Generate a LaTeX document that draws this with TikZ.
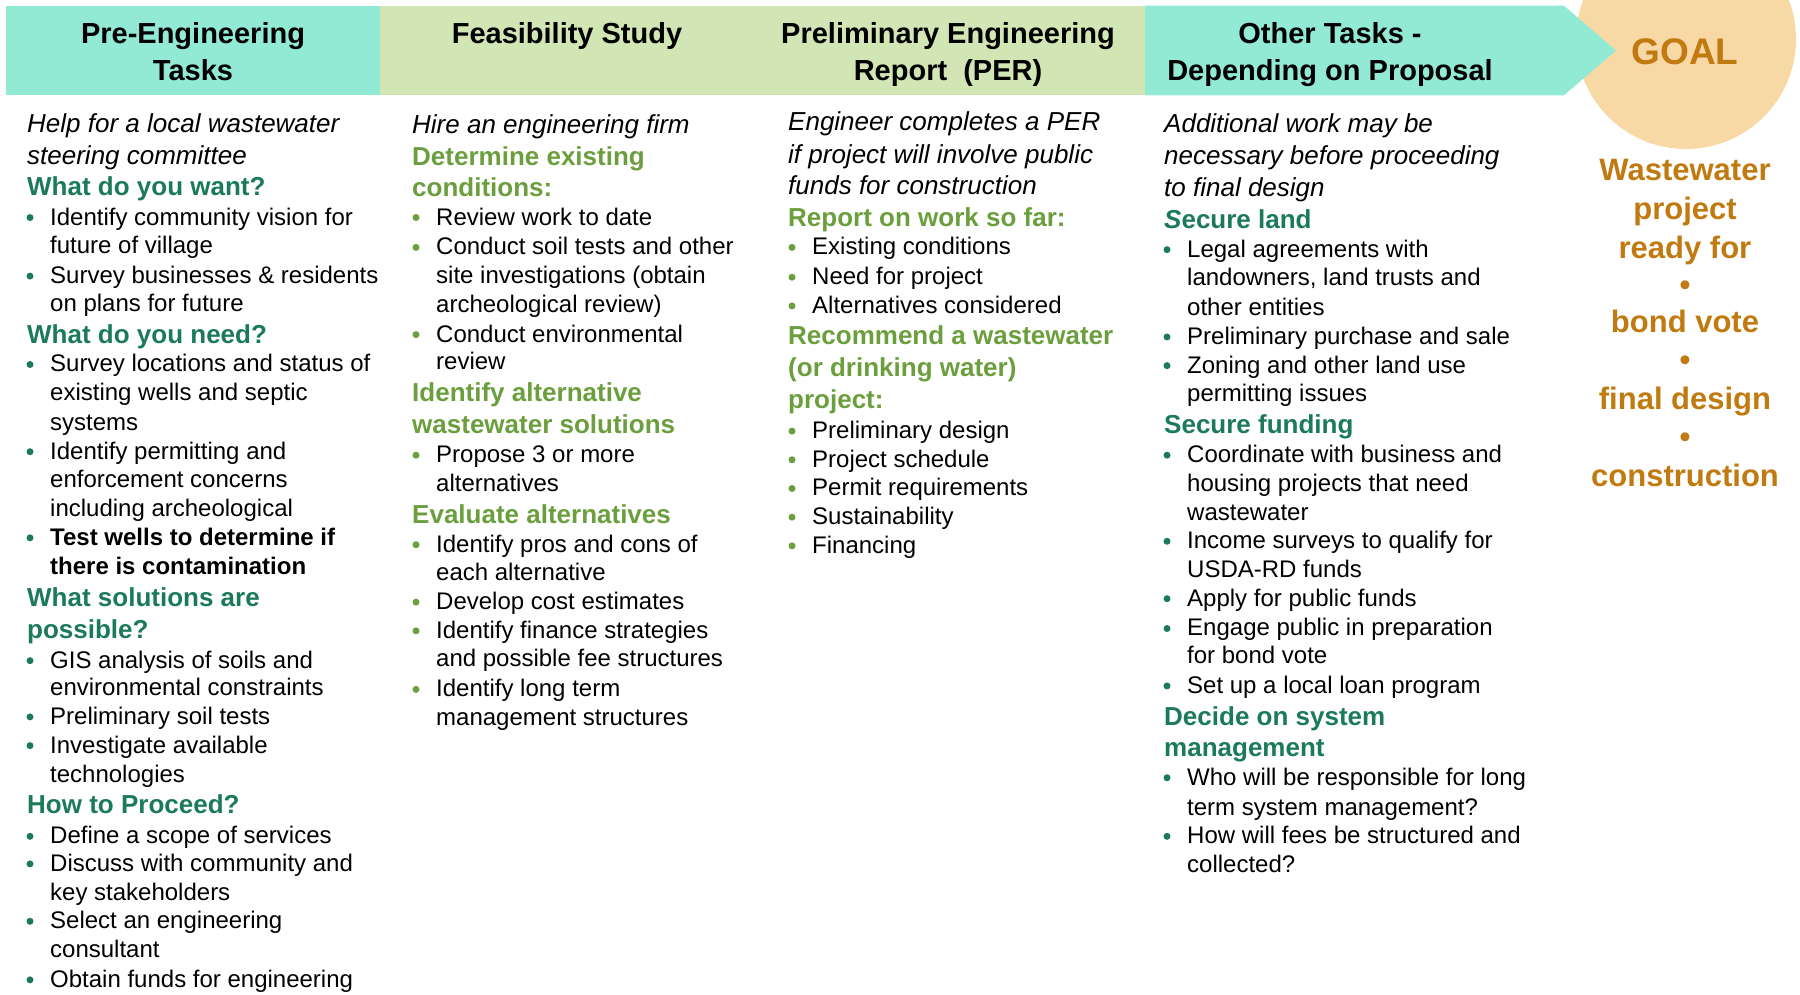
\documentclass[tikz,border=0pt]{standalone}
\usepackage{fontspec}
\setmainfont{Liberation Sans}
\definecolor{hteal}{HTML}{92EAD4}
\definecolor{hgreen}{HTML}{D2E5B5}
\definecolor{peach}{HTML}{F8D8A5}
\definecolor{goalc}{HTML}{C07A10}
\definecolor{tg}{HTML}{1B7A5A}
\definecolor{og}{HTML}{6B9E3C}
\newcommand\mkI[4]{\node[itl] (#1) at (#2,#3+8) {#4};}
\newcommand\mkH[5]{\node[hd, text=#2] (#1) at (#3,#4+8) {#5};}
\newcommand\mkT[4]{\node[bd] (#1) at (#2,#3+7) {#4};}
\newcommand\mkB[5]{\node[bd] (#1) at (#3,#4+7) {#5};
  \fill[#2] (#3-20,#4+0.5) circle[radius=3.5pt];}
\newcommand\mkG[3]{\node[goalline] (#1) at (1685,#2+9) {#3};}
\begin{document}
\begin{tikzpicture}[x=1pt,y=-1.148pt,
  bd/.style={anchor=base west, inner sep=0pt, text=black,
    font=\fontsize{24}{28}\selectfont},
  itl/.style={bd, font=\fontsize{26}{30}\selectfont\itshape},
  hd/.style={bd, font=\fontsize{26}{30}\selectfont\bfseries},
  hdr/.style={anchor=base, inner sep=0pt, text=black,
    font=\bfseries\fontsize{29}{36}\selectfont},
  goalline/.style={anchor=base, inner sep=0pt, text=goalc,
    font=\bfseries\fontsize{31}{36}\selectfont}]
\useasboundingbox (0,0) rectangle (1800,866);
\clip (0,0) rectangle (1800,866);
% header band
\fill[hteal] (6,5) rectangle (380,83);
\fill[hgreen] (380,5) rectangle (1145,83);
\fill[peach] (1686,34) circle[radius=110pt];
\fill[hteal] (1145,5) -- (1564,5) -- (1616,44) -- (1564,83) -- (1145,83) -- cycle;
\node[hdr] (h1a) at (193,37.5) {Pre-Engineering};
\node[hdr] (h1b) at (193,69.7) {Tasks};
\node[hdr] (h2) at (567,37.5) {Feasibility Study};
\node[hdr] (h3a) at (948,37.5) {Preliminary Engineering};
\node[hdr] (h3b) at (948,69.7) {Report\ \ (PER)};
\node[hdr] (h4a) at (1330,37.5) {Other Tasks -};
\node[hdr] (h4b) at (1330,69.7) {Depending on Proposal};
\node[text=goalc, inner sep=0pt, font=\bfseries\fontsize{37}{40}\selectfont] (goal) at (1685,45) {GOAL};
% goal list
\mkG{g1}{148}{Wastewater}
\mkG{g2}{182}{project}
\mkG{g3}{216}{ready for}
\mkG{g4}{248}{•}
\mkG{g5}{281}{bond vote}
\mkG{g6}{314}{•}
\mkG{g7}{348}{final design}
\mkG{g8}{381}{•}
\mkG{g9}{415}{construction}
% column 1
\mkI{c1i1}{27}{107}{Help for a local wastewater}
\mkI{c1i2}{27}{135}{steering committee}
\mkH{c1h1}{tg}{27}{162}{What do you want?}
\mkB{c1b1}{tg}{50}{189}{Identify community vision for}
\mkT{c1t1}{50}{214}{future of village}
\mkB{c1b2}{tg}{50}{240}{Survey businesses \& residents}
\mkT{c1t2}{50}{264}{on plans for future}
\mkH{c1h2}{tg}{27}{291}{What do you need?}
\mkB{c1b3}{tg}{50}{317}{Survey locations and status of}
\mkT{c1t3}{50}{342}{existing wells and septic}
\mkT{c1t4}{50}{368}{systems}
\mkB{c1b4}{tg}{50}{393}{Identify permitting and}
\mkT{c1t5}{50}{418}{enforcement concerns}
\mkT{c1t6}{50}{443}{including archeological}
\mkB{c1b5}{tg}{50}{468}{\bfseries Test wells to determine if}
\mkT{c1t7}{50}{493}{\bfseries there is contamination}
\mkH{c1h3}{tg}{27}{520}{What solutions are}
\mkH{c1h4}{tg}{27}{548}{possible?}
\mkB{c1b6}{tg}{50}{575}{GIS analysis of soils and}
\mkT{c1t8}{50}{599}{environmental constraints}
\mkB{c1b7}{tg}{50}{624}{Preliminary soil tests}
\mkB{c1b8}{tg}{50}{649}{Investigate available}
\mkT{c1t9}{50}{675}{technologies}
\mkH{c1h5}{tg}{27}{701}{How to Proceed?}
\mkB{c1b9}{tg}{50}{728}{Define a scope of services}
\mkB{c1b10}{tg}{50}{752}{Discuss with community and}
\mkT{c1t10}{50}{777}{key stakeholders}
\mkB{c1b11}{tg}{50}{802}{Select an engineering}
\mkT{c1t11}{50}{827}{consultant}
\mkB{c1b12}{tg}{50}{853}{Obtain funds for engineering}
% column 2
\mkI{c2i1}{412}{108}{Hire an engineering firm}
\mkH{c2h1}{og}{412}{136}{Determine existing}
\mkH{c2h2}{og}{412}{163}{conditions:}
\mkB{c2b1}{og}{436}{189}{Review work to date}
\mkB{c2b2}{og}{436}{215}{Conduct soil tests and other}
\mkT{c2t1}{436}{240}{site investigations (obtain}
\mkT{c2t2}{436}{265}{archeological review)}
\mkB{c2b3}{og}{436}{291}{Conduct environmental}
\mkT{c2t3}{436}{315}{review}
\mkH{c2h3}{og}{412}{342}{Identify alternative}
\mkH{c2h4}{og}{412}{370}{wastewater solutions}
\mkB{c2b4}{og}{436}{396}{Propose 3 or more}
\mkT{c2t4}{436}{421}{alternatives}
\mkH{c2h5}{og}{412}{448}{Evaluate alternatives}
\mkB{c2b5}{og}{436}{474}{Identify pros and cons of}
\mkT{c2t5}{436}{499}{each alternative}
\mkB{c2b6}{og}{436}{524}{Develop cost estimates}
\mkB{c2b7}{og}{436}{549}{Identify finance strategies}
\mkT{c2t6}{436}{574}{and possible fee structures}
\mkB{c2b8}{og}{436}{600}{Identify long term}
\mkT{c2t7}{436}{625}{management structures}
% column 3
\mkI{c3i1}{788}{106}{Engineer completes a PER}
\mkI{c3i2}{788}{134}{if project will involve public}
\mkI{c3i3}{788}{161}{funds for construction}
\mkH{c3h1}{og}{788}{189}{Report on work so far:}
\mkB{c3b1}{og}{812}{215}{Existing conditions}
\mkB{c3b2}{og}{812}{241}{Need for project}
\mkB{c3b3}{og}{812}{266}{Alternatives considered}
\mkH{c3h2}{og}{788}{292}{Recommend a wastewater}
\mkH{c3h3}{og}{788}{320}{(or drinking water)}
\mkH{c3h4}{og}{788}{348}{project:}
\mkB{c3b4}{og}{812}{375}{Preliminary design}
\mkB{c3b5}{og}{812}{400}{Project schedule}
\mkB{c3b6}{og}{812}{425}{Permit requirements}
\mkB{c3b7}{og}{812}{450}{Sustainability}
\mkB{c3b8}{og}{812}{475}{Financing}
% column 4
\mkI{c4i1}{1164}{107}{Additional work may be}
\mkI{c4i2}{1164}{135}{necessary before proceeding}
\mkI{c4i3}{1164}{163}{to final design}
\mkH{c4h1}{tg}{1164}{191}{\textit{S}ecure land}
\mkB{c4b1}{tg}{1187}{217}{Legal agreements with}
\mkT{c4t1}{1187}{242}{landowners, land trusts and}
\mkT{c4t2}{1187}{268}{other entities}
\mkB{c4b2}{tg}{1187}{293}{Preliminary purchase and sale}
\mkB{c4b3}{tg}{1187}{318}{Zoning and other land use}
\mkT{c4t3}{1187}{343}{permitting issues}
\mkH{c4h2}{tg}{1164}{370}{Secure funding}
\mkB{c4b4}{tg}{1187}{396}{Coordinate with business and}
\mkT{c4t4}{1187}{421}{housing projects that need}
\mkT{c4t5}{1187}{446}{wastewater}
\mkB{c4b5}{tg}{1187}{471}{Income surveys to qualify for}
\mkT{c4t6}{1187}{496}{USDA-RD funds}
\mkB{c4b6}{tg}{1187}{521}{Apply for public funds}
\mkB{c4b7}{tg}{1187}{547}{Engage public in preparation}
\mkT{c4t7}{1187}{571}{for bond vote}
\mkB{c4b8}{tg}{1187}{597}{Set up a local loan program}
\mkH{c4h3}{tg}{1164}{624}{Decide on system}
\mkH{c4h4}{tg}{1164}{651}{management}
\mkB{c4b9}{tg}{1187}{677}{Who will be responsible for long}
\mkT{c4t8}{1187}{703}{term system management?}
\mkB{c4b10}{tg}{1187}{728}{How will fees be structured and}
\mkT{c4t9}{1187}{753}{collected?}
\end{tikzpicture}
\end{document}
